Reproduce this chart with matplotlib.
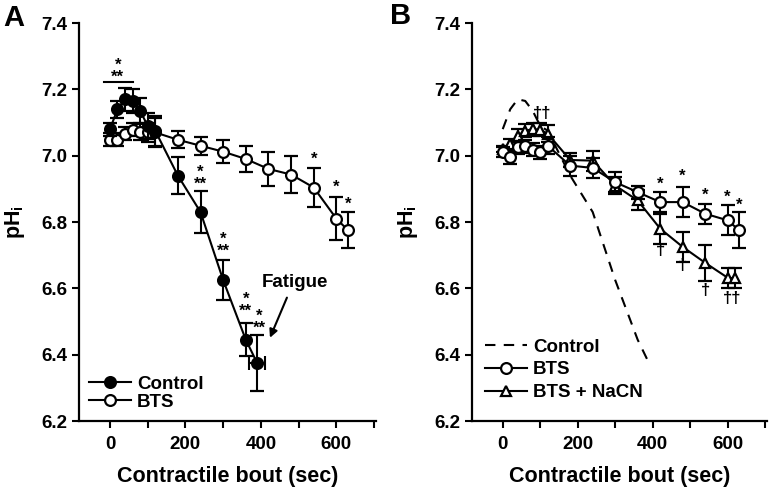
import matplotlib
matplotlib.use('Agg')
import matplotlib.pyplot as plt
from matplotlib.lines import Line2D

plt.rcParams['font.family'] = ['Liberation Sans', 'DejaVu Sans']
plt.rcParams['font.weight'] = 'bold'
plt.rcParams['mathtext.fontset'] = 'custom'
plt.rcParams['mathtext.rm'] = 'Liberation Sans:bold'
plt.rcParams['mathtext.bf'] = 'Liberation Sans:bold'
plt.rcParams['mathtext.it'] = 'Liberation Sans:bold'

# ---------------- data ----------------
ctrl_t = [0, 20, 40, 60, 80, 100, 120, 180, 240, 300, 360, 390]
ctrl_ph = [7.08, 7.14, 7.17, 7.165, 7.135, 7.09, 7.075, 6.94, 6.83, 6.625, 6.445, 6.375]
ctrl_err = [0.02, 0.025, 0.035, 0.035, 0.04, 0.04, 0.045, 0.055, 0.062, 0.06, 0.05, 0.085]
ctrl_last_xerr = 22

bts_t = [0, 20, 40, 60, 80, 100, 120, 180, 240, 300, 360, 420, 480, 540, 600, 630]
bts_ph_a = [7.048, 7.048, 7.066, 7.078, 7.072, 7.07, 7.07, 7.048, 7.03, 7.012, 6.99,
            6.96, 6.943, 6.904, 6.81, 6.776]
bts_err_a = [0.02, 0.02, 0.02, 0.02, 0.025, 0.03, 0.045, 0.025, 0.027, 0.035, 0.04,
             0.05, 0.055, 0.06, 0.065, 0.055]

bts_ph_b = [7.01, 6.995, 7.025, 7.028, 7.018, 7.01, 7.03, 6.97, 6.963, 6.92, 6.89,
            6.86, 6.86, 6.825, 6.805, 6.776]
bts_err_b = [0.015, 0.02, 0.02, 0.02, 0.02, 0.02, 0.025, 0.03, 0.03, 0.03, 0.02,
             0.03, 0.045, 0.03, 0.045, 0.055]

nacn_t = [0, 20, 40, 60, 80, 100, 120, 180, 240, 300, 360, 420, 480, 540, 600, 620]
nacn_ph = [7.02, 7.036, 7.06, 7.075, 7.08, 7.078, 7.066, 6.987, 6.985, 6.91, 6.865,
           6.78, 6.725, 6.677, 6.632, 6.63]
nacn_err = [0.01, 0.015, 0.02, 0.02, 0.02, 0.02, 0.025, 0.02, 0.03, 0.025, 0.03,
            0.045, 0.045, 0.055, 0.03, 0.03]

# significance marks (x, y, text)
sig_a = [(21, 7.255, '*\n**'),
         (240, 6.932, '*\n**'),
         (300, 6.731, '*\n**'),
         (360, 6.550, '*\n**'),
         (395, 6.497, '*\n**'),
         (540, 6.989, '*'), (600, 6.905, '*'), (630, 6.853, '*')]
sig_b = [(420, 6.915, '*'), (480, 6.938, '*'), (540, 6.880, '*'),
         (600, 6.875, '*'), (630, 6.850, '*'),
         (105, 7.127, '††'),
         (420, 6.713, '†'), (480, 6.668, '†'), (540, 6.593, '†'),
         (612, 6.569, '††')]

yticks = [6.2, 6.4, 6.6, 6.8, 7.0, 7.2, 7.4]
xticks_major = [0, 200, 400, 600]
xticks_minor = [100, 300, 500, 700]

fig = plt.figure(figsize=(7.69, 4.88), dpi=100)
axA = fig.add_axes([79/769, 67/488, 297/769, 398/488])
axB = fig.add_axes([472/769, 67/488, 295/769, 398/488])

eb = dict(capsize=4.8, elinewidth=1.5, capthick=1.5, color='black', lw=1.5,
          markersize=7.8, markeredgewidth=1.6, markeredgecolor='black')

def style(ax):
    ax.set_xlim(-82, 705)
    ax.set_ylim(6.2, 7.4)
    ax.spines['top'].set_visible(False)
    ax.spines['right'].set_visible(False)
    ax.spines['left'].set_linewidth(1.6)
    ax.spines['bottom'].set_linewidth(1.6)
    ax.set_yticks(yticks)
    ax.set_yticklabels([f'{v:.1f}' for v in yticks])
    ax.set_xticks(xticks_major)
    ax.set_xticks(xticks_minor, minor=True)
    ax.tick_params(axis='both', which='both', direction='out', width=1.5, length=5,
                   labelsize=13.5)
    ax.tick_params(axis='x', pad=6)
    ax.set_xlabel('Contractile bout (sec)', fontsize=15.5, fontweight='bold', labelpad=9)
    ax.set_ylabel(r'$\mathrm{pH_i}$', fontsize=15.5, labelpad=10)

def put_sig(ax, marks):
    for x, y, s in marks:
        ax.text(x, y, s, ha='center', va='center', fontsize=12, fontweight='bold',
                linespacing=0.75, multialignment='center')

# Panel A
axA.errorbar(bts_t, bts_ph_a, yerr=bts_err_a, marker='o', markerfacecolor='white',
             zorder=3, **eb)
axA.errorbar(ctrl_t, ctrl_ph, yerr=ctrl_err, marker='o', markerfacecolor='black',
             zorder=4, **eb)
axA.errorbar([ctrl_t[-1]], [ctrl_ph[-1]], xerr=[ctrl_last_xerr], fmt='none',
             ecolor='black', elinewidth=1.5, capsize=4.8, capthick=1.5, zorder=4)
axA.plot([-16, 61], [7.223, 7.223], color='black', lw=1.5)
put_sig(axA, sig_a)
axA.text(490, 6.617, 'Fatigue', ha='center', va='center', fontsize=13.5, fontweight='bold')
axA.annotate('', xy=(424, 6.451), xytext=(469, 6.572),
             arrowprops=dict(arrowstyle='-|>', lw=1.5, color='black',
                             mutation_scale=12, shrinkA=0, shrinkB=0))
style(axA)
hA = [Line2D([], [], color='black', lw=1.5, marker='o', markersize=7.8,
             markerfacecolor='black', markeredgewidth=1.6),
      Line2D([], [], color='black', lw=1.5, marker='o', markersize=7.8,
             markerfacecolor='white', markeredgewidth=1.6)]
axA.legend(hA, ['Control', 'BTS'], loc='lower left', bbox_to_anchor=(0.035, 0.025),
           frameon=False, fontsize=13.5, handlelength=2.2, handletextpad=0.35,
           labelspacing=0.05, borderpad=0, borderaxespad=0)

# Panel B
axB.plot(ctrl_t, ctrl_ph, color='black', lw=1.5, ls=(0, (5, 4)), zorder=2)
axB.errorbar(nacn_t, nacn_ph, yerr=nacn_err, marker='^', markerfacecolor='white',
             zorder=3, **eb)
axB.errorbar(bts_t, bts_ph_b, yerr=bts_err_b, marker='o', markerfacecolor='white',
             zorder=4, **eb)
put_sig(axB, sig_b)
style(axB)
hB = [Line2D([], [], color='black', lw=1.5, ls=(0, (5, 4))),
      Line2D([], [], color='black', lw=1.5, marker='o', markersize=7.8,
             markerfacecolor='white', markeredgewidth=1.6),
      Line2D([], [], color='black', lw=1.5, marker='^', markersize=7.8,
             markerfacecolor='white', markeredgewidth=1.6)]
axB.legend(hB, ['Control', 'BTS', 'BTS + NaCN'], loc='lower left',
           bbox_to_anchor=(0.045, 0.05), frameon=False, fontsize=13.5,
           handlelength=2.2, handletextpad=0.35, labelspacing=0.3,
           borderpad=0, borderaxespad=0)

fig.text(3/769, 1 - 18/488, 'A', fontsize=21, fontweight='bold', va='center', ha='left')
fig.text(390/769, 1 - 16/488, 'B', fontsize=21, fontweight='bold', va='center', ha='left')

fig.savefig('out.png', dpi=100)
